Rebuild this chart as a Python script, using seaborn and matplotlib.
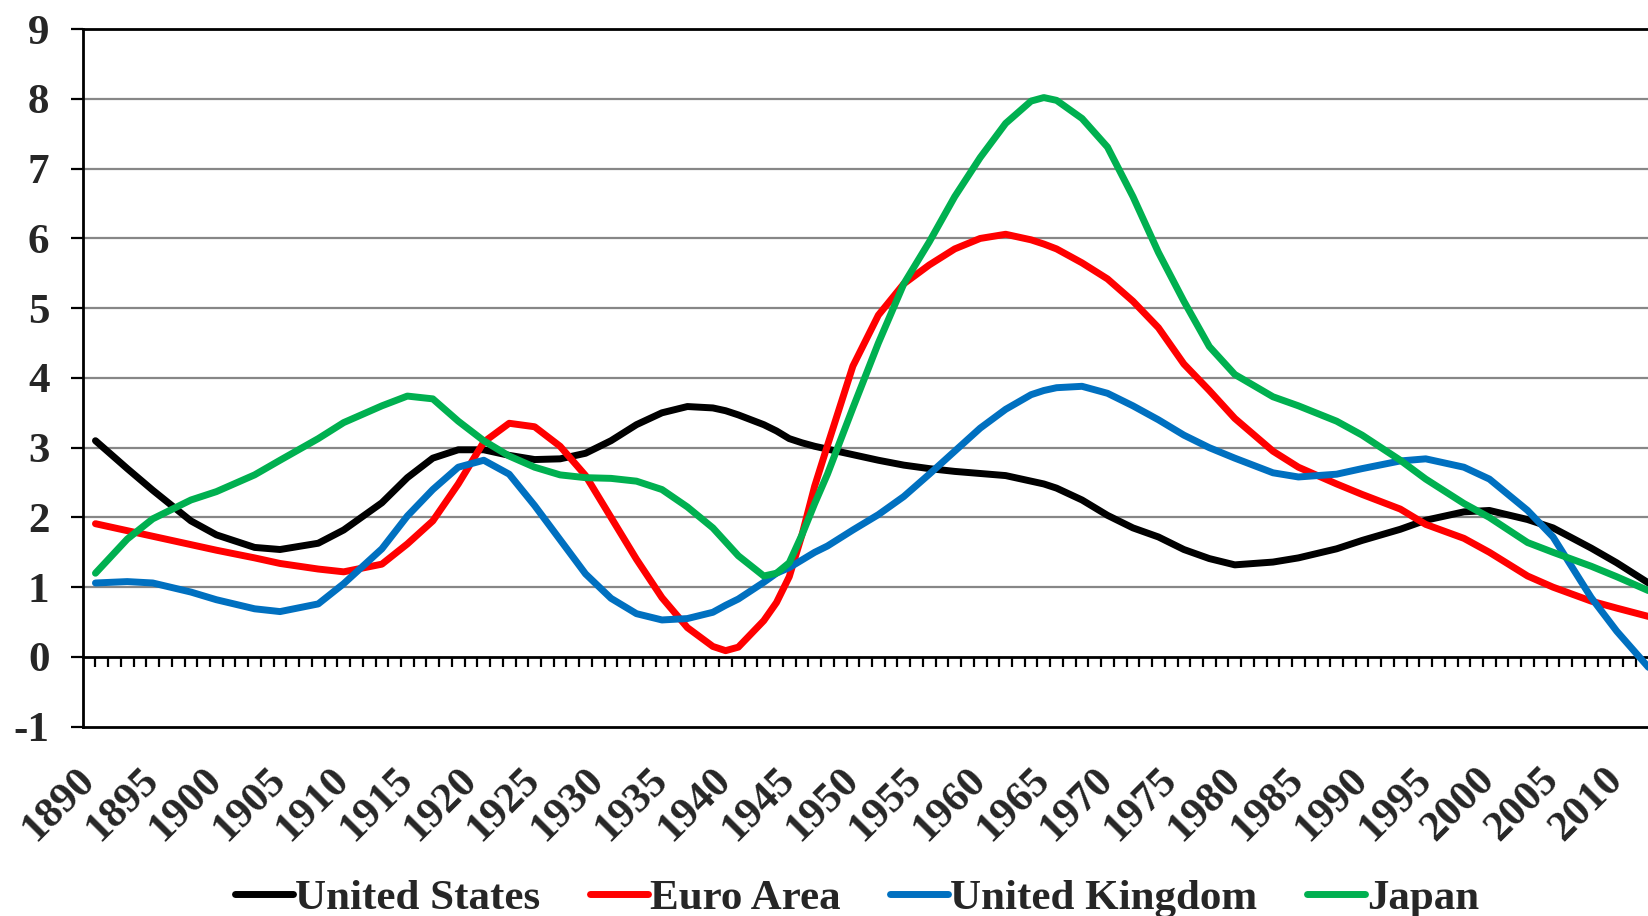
import numpy as np
import pandas as pd
import matplotlib
matplotlib.use("Agg")
import matplotlib.pyplot as plt
import seaborn as sns

years = [1890.5, 1893, 1895, 1898, 1900, 1903, 1905, 1908, 1910, 1913,
         1915, 1917, 1919, 1921, 1923, 1925, 1927, 1929, 1931, 1933,
         1935, 1937, 1939, 1940, 1941, 1943, 1944, 1945, 1946, 1947,
         1948, 1950, 1952, 1954, 1956, 1958, 1960, 1962, 1964, 1965,
         1966, 1968, 1970, 1972, 1974, 1976, 1978, 1980, 1983, 1985,
         1988, 1990, 1993, 1995, 1998, 2000, 2003, 2005, 2008, 2010,
         2012.5]

united_states = [3.10, 2.70, 2.39, 1.95, 1.75, 1.57, 1.54, 1.63, 1.82, 2.21,
                 2.57, 2.85, 2.97, 2.97, 2.89, 2.83, 2.84, 2.92, 3.10, 3.33,
                 3.50, 3.59, 3.57, 3.53, 3.47, 3.33, 3.24, 3.13, 3.07, 3.02,
                 2.98, 2.90, 2.82, 2.75, 2.70, 2.66, 2.63, 2.60, 2.52, 2.48,
                 2.42, 2.25, 2.03, 1.85, 1.72, 1.54, 1.41, 1.32, 1.36, 1.42,
                 1.55, 1.67, 1.83, 1.96, 2.08, 2.10, 1.97, 1.85, 1.56, 1.35,
                 1.06]

euro_area = [1.91, 1.81, 1.73, 1.61, 1.53, 1.42, 1.34, 1.26, 1.22, 1.33,
             1.62, 1.95, 2.48, 3.08, 3.35, 3.30, 3.02, 2.60, 2.00, 1.40,
             0.85, 0.42, 0.15, 0.09, 0.14, 0.52, 0.78, 1.15, 1.75, 2.45,
             3.03, 4.17, 4.90, 5.35, 5.62, 5.85, 6.00, 6.06, 5.98, 5.92,
             5.85, 5.65, 5.42, 5.10, 4.72, 4.20, 3.82, 3.42, 2.95, 2.72,
             2.48, 2.33, 2.12, 1.90, 1.70, 1.50, 1.16, 1.00, 0.80, 0.70,
             0.58]

united_kingdom = [1.06, 1.08, 1.06, 0.93, 0.82, 0.69, 0.65, 0.76, 1.05, 1.55,
                  2.02, 2.40, 2.72, 2.82, 2.62, 2.17, 1.68, 1.19, 0.84, 0.62,
                  0.53, 0.55, 0.64, 0.74, 0.83, 1.07, 1.20, 1.28, 1.39, 1.50,
                  1.59, 1.82, 2.04, 2.30, 2.62, 2.95, 3.28, 3.55, 3.76, 3.82,
                  3.86, 3.88, 3.78, 3.60, 3.40, 3.18, 3.00, 2.85, 2.64, 2.58,
                  2.62, 2.70, 2.81, 2.84, 2.72, 2.55, 2.10, 1.72, 0.85, 0.37,
                  -0.15]

japan = [1.20, 1.69, 1.98, 2.25, 2.37, 2.61, 2.82, 3.13, 3.36, 3.60,
         3.74, 3.70, 3.38, 3.10, 2.88, 2.72, 2.61, 2.57, 2.56, 2.52,
         2.40, 2.15, 1.85, 1.65, 1.45, 1.16, 1.20, 1.35, 1.75, 2.20,
         2.62, 3.57, 4.50, 5.35, 5.95, 6.60, 7.16, 7.65, 7.97, 8.02,
         7.98, 7.72, 7.31, 6.60, 5.80, 5.10, 4.45, 4.05, 3.73, 3.60,
         3.38, 3.18, 2.82, 2.55, 2.20, 2.00, 1.64, 1.50, 1.30, 1.15,
         0.95]

series_names = ["United States", "Euro Area", "United Kingdom", "Japan"]
series_colors = ["#000000", "#FF0000", "#0070C0", "#00B050"]
tick_years = list(range(1890, 2011, 5))

df = pd.DataFrame({
    "year": years * 4,
    "value": united_states + euro_area + united_kingdom + japan,
    "series": np.repeat(series_names, len(years)),
})

sns.set_style("white")
plt.rcParams["font.family"] = ["Liberation Serif", "DejaVu Serif"]
plt.rcParams["font.weight"] = "bold"

fig = plt.figure(figsize=(16.48, 9.16), dpi=100)
ax = fig.add_axes([0.0502, 0.2067, 0.9498, 0.7614])

sns.lineplot(data=df, x="year", y="value", hue="series", hue_order=series_names,
             palette=series_colors, linewidth=5, ax=ax, sort=False,
             solid_capstyle="round", solid_joinstyle="round")

ax.set_xlim(1889.5, 2012.46)
ax.set_ylim(-1, 9)
ax.set_xlabel("")
ax.set_ylabel("")

# horizontal grid
for v in range(1, 9):
    ax.axhline(v, color="#878787", lw=1.6, zorder=0)

ax.set_yticks(range(-1, 10))
ax.set_yticklabels([str(v) for v in range(-1, 10)], fontsize=31, fontweight="bold")
ax.tick_params(axis="y", direction="out", length=9, width=1.6, color="black", pad=15, left=True)

ax.set_xticks(tick_years)
ax.set_xticklabels([str(y) for y in tick_years], fontsize=31, fontweight="bold",
                   rotation=45, ha="right", va="center", rotation_mode="anchor")
ax.tick_params(axis="x", length=0, pad=34)

for side in ["left", "bottom", "top"]:
    ax.spines[side].set_color("black")
    ax.spines[side].set_linewidth(2)
ax.spines["right"].set_visible(False)

# zero axis with yearly tick marks
zero_ax = ax.secondary_xaxis(0.1)
zero_ax.set_xticks(np.arange(1890.5, 2013, 1.0))
zero_ax.set_xticklabels([])
zero_ax.tick_params(direction="out", length=7, width=1.6, color="black")
zero_ax.spines["bottom"].set_linewidth(2)
zero_ax.spines["bottom"].set_color("black")

handles, labels = ax.get_legend_handles_labels()
ax.get_legend().remove()
fig.legend(handles, labels, loc="center", bbox_to_anchor=(0.52, 0.019), ncol=4,
           frameon=False, handlelength=1.35, handletextpad=0.05,
           columnspacing=1.15, borderpad=0, prop={"weight": "bold", "size": 31})

fig.savefig("out.png", dpi=100)
